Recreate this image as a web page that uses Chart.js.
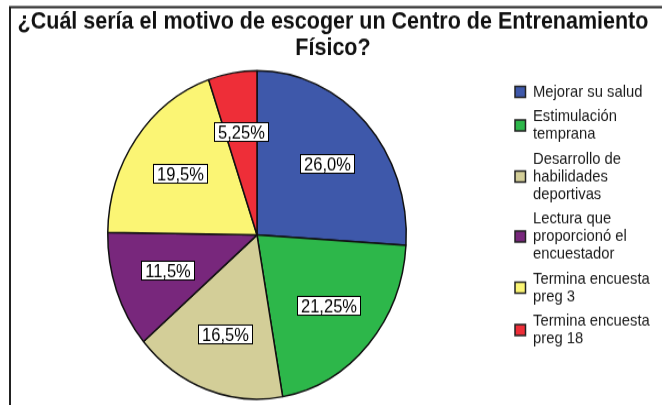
<!DOCTYPE html>
<html>
<head>
<meta charset="utf-8">
<script src="https://cdn.jsdelivr.net/npm/chart.js@4.4.0/dist/chart.umd.min.js"></script>
<style>
  html, body { margin: 0; padding: 0; background: #fff; width: 662px; height: 405px; overflow: hidden; }
  #outer { width: 662px; height: 405px; overflow: hidden; }
  /* the source picture is stretched a bit vertically, so we draw at 368px and scale */
  #wrap { width: 662px; height: 368px; transform: scaleY(1.1); transform-origin: 0 0; }
</style>
</head>
<body>
<div id="outer"><div id="wrap"><canvas id="chart" width="662" height="368"></canvas></div></div>
<script>
const titleLines = ['¿Cuál sería el motivo de escoger un Centro de Entrenamiento', 'Físico?'];

// legend labels, one array per category (line breaks as in the picture)
const categories = [
    ['Mejorar su salud'],
    ['Estimulación', 'temprana'],
    ['Desarrollo de', 'habilidades', 'deportivas'],
    ['Lectura que', 'proporcionó el', 'encuestador'],
    ['Termina encuesta', 'preg 3'],
    ['Termina encuesta', 'preg 18']
];
const percentages = [26.0, 21.25, 16.5, 11.5, 19.5, 5.25];
const sliceColors = ['#3e58aa', '#2db74a', '#d3ce98', '#78277c', '#fbf574', '#ee2e38'];

const FONT = '"Liberation Sans", Arial, sans-serif';

function fmtPct(v) {
    const s = Number.isInteger(v) ? v.toFixed(1) : String(v);
    return s.replace('.', ',') + '%';
}

// marco + título
const framePlugin = {
    id: 'frame',
    beforeDraw(chart) {
        const ctx = chart.ctx;
        ctx.save();
        ctx.fillStyle = '#fff';
        ctx.fillRect(0, 0, chart.width, chart.height);
        ctx.strokeStyle = '#222';
        ctx.lineWidth = 2;
        ctx.beginPath();
        ctx.moveTo(10, chart.height);
        ctx.lineTo(10, 6.5);
        ctx.lineTo(chart.width, 6.5);
        ctx.stroke();

        ctx.fillStyle = '#111';
        ctx.font = 'bold 21.5px ' + FONT;
        ctx.textAlign = 'center';
        ctx.textBaseline = 'middle';
        titleLines.forEach((t, i) => ctx.fillText(t, 333, 20 + i * 23.6));
        ctx.restore();
    }
};

// etiquetas de porcentaje en cajas blancas
const boxLabelsPlugin = {
    id: 'boxLabels',
    afterDatasetsDraw(chart) {
        const ctx = chart.ctx;
        const meta = chart.getDatasetMeta(0);
        ctx.save();
        ctx.font = '16.5px ' + FONT;
        ctx.textAlign = 'center';
        ctx.textBaseline = 'middle';
        meta.data.forEach((arc, i) => {
            const mid = (arc.startAngle + arc.endAngle) / 2;
            const r = arc.outerRadius * 0.64;
            const x = arc.x + Math.cos(mid) * r;
            const y = arc.y + Math.sin(mid) * r;
            const txt = fmtPct(percentages[i]);
            const w = Math.round(ctx.measureText(txt).width + 7);
            const h = 17;
            const bx = Math.round(x - w / 2) + 0.5;
            const by = Math.round(y - h / 2) + 0.5;
            ctx.fillStyle = '#fff';
            ctx.fillRect(bx, by, w, h);
            ctx.strokeStyle = '#000';
            ctx.lineWidth = 1;
            ctx.strokeRect(bx, by, w, h);
            ctx.fillStyle = '#000';
            ctx.fillText(txt, bx + w / 2, by + h / 2 + 1);
        });
        ctx.restore();
    }
};

// leyenda a la derecha
const sideLegendPlugin = {
    id: 'sideLegend',
    afterDraw(chart) {
        const ctx = chart.ctx;
        const lineH = 16;
        const gap = 6.5;
        let y = 83.5;
        ctx.save();
        ctx.font = '14.8px ' + FONT;
        ctx.textAlign = 'left';
        ctx.textBaseline = 'middle';
        categories.forEach((lines, i) => {
            const blockMid = y + (lines.length - 1) * lineH / 2;
            ctx.fillStyle = sliceColors[i];
            ctx.fillRect(515, blockMid - 5, 10.5, 10);
            ctx.strokeStyle = '#222';
            ctx.lineWidth = 1.5;
            ctx.strokeRect(515, blockMid - 5, 10.5, 10);
            ctx.fillStyle = '#1a1a1a';
            lines.forEach((l, k) => ctx.fillText(l, 533, y + k * lineH));
            y += lines.length * lineH + gap;
        });
        ctx.restore();
    }
};

new Chart(document.getElementById('chart').getContext('2d'), {
    type: 'pie',
    data: {
        labels: categories,
        datasets: [{
            data: percentages,
            backgroundColor: sliceColors,
            borderColor: '#111',
            borderWidth: 1.5
        }]
    },
    options: {
        responsive: false,
        animation: false,
        devicePixelRatio: 1,
        layout: { padding: { left: 107, right: 255, top: 63.6, bottom: 4.4 } },
        plugins: {
            legend: { display: false },
            title: { display: false },
            tooltip: { enabled: false }
        }
    },
    plugins: [framePlugin, boxLabelsPlugin, sideLegendPlugin]
});
</script>
</body>
</html>
